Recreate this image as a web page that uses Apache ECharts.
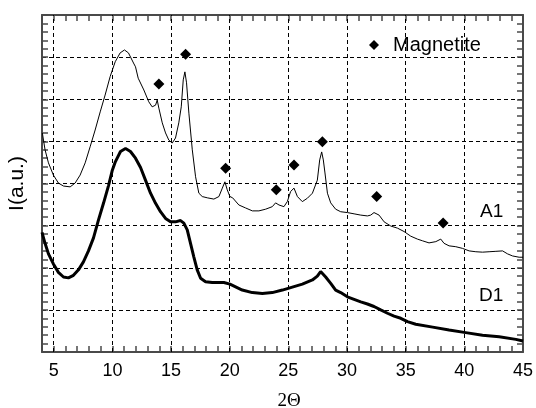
<!DOCTYPE html>
<html>
<head>
<meta charset="utf-8">
<script src="https://cdn.jsdelivr.net/npm/echarts@6/dist/echarts.min.js"></script>
<style>html,body{margin:0;padding:0;background:#fff}#c{width:536px;height:408px}</style>
</head>
<body>
<div id="c"></div>
<script>
var a1X = [4.03,4.26,4.55,4.97,5.40,5.83,6.40,6.82,7.25,7.68,8.10,8.53,8.96,9.38,9.81,10.24,10.66,11.03,11.37,11.80,11.97,12.20,12.68,13.10,13.39,13.68,13.82,13.96,14.25,14.53,14.81,15.10,15.38,15.66,15.87,16.04,16.18,16.32,16.52,16.81,17.09,17.37,17.66,18.09,18.65,19.08,19.37,19.59,19.79,20.02,20.25,20.78,21.35,21.93,22.49,23.06,23.63,23.91,24.20,24.62,24.91,25.19,25.48,25.77,26.19,26.62,27.05,27.47,27.67,27.84,27.98,28.12,28.33,28.61,29.03,29.46,30.03,30.60,31.17,31.74,32.02,32.30,32.45,32.73,33.16,33.73,34.30,34.86,35.43,36.00,36.43,36.99,37.57,37.99,38.27,38.70,39.27,39.84,40.41,40.98,41.55,42.11,42.69,43.26,43.68,44.11,44.67,45.00];
var a1Y = [5.20,4.80,4.49,4.20,4.01,3.94,3.92,4.01,4.20,4.49,4.87,5.27,5.70,6.10,6.54,6.89,7.10,7.17,7.10,6.86,6.77,6.50,6.22,5.94,5.82,5.86,5.98,5.79,5.44,5.20,5.03,4.96,5.08,5.44,5.82,6.46,6.65,6.39,5.67,4.80,4.16,3.77,3.69,3.66,3.63,3.69,3.89,4.04,3.85,3.69,3.66,3.49,3.42,3.35,3.35,3.39,3.45,3.54,3.49,3.45,3.57,3.81,3.89,3.69,3.57,3.65,3.77,4.08,4.56,4.75,4.56,4.25,3.77,3.54,3.39,3.33,3.31,3.28,3.25,3.23,3.25,3.31,3.35,3.25,3.09,2.99,2.94,2.86,2.75,2.68,2.64,2.59,2.62,2.68,2.58,2.52,2.50,2.46,2.40,2.38,2.37,2.38,2.39,2.40,2.33,2.28,2.25,2.25];
var d1X = [4.00,4.26,4.55,4.97,5.40,5.83,6.25,6.68,7.11,7.53,7.96,8.39,8.81,9.24,9.67,9.98,10.26,10.69,11.12,11.54,11.97,12.40,12.82,13.25,13.68,14.10,14.53,14.96,15.38,15.81,16.09,16.38,16.66,16.94,17.23,17.52,17.94,18.51,19.08,19.50,20.02,21.07,21.93,22.78,23.63,24.49,25.34,26.19,27.05,27.47,27.75,28.18,28.61,29.03,29.46,30.03,30.60,31.17,31.74,32.30,32.87,33.45,34.01,34.58,35.15,35.86,37.30,38.70,40.12,41.55,42.97,44.39,45.00];
var d1Y = [2.84,2.58,2.33,2.09,1.89,1.78,1.76,1.82,1.95,2.14,2.40,2.71,3.13,3.53,3.95,4.30,4.52,4.76,4.83,4.76,4.60,4.38,4.08,3.77,3.53,3.33,3.17,3.09,3.09,3.12,3.06,2.90,2.58,2.26,1.95,1.75,1.67,1.65,1.65,1.65,1.61,1.47,1.41,1.39,1.41,1.47,1.54,1.61,1.71,1.80,1.91,1.78,1.63,1.47,1.41,1.31,1.25,1.19,1.14,1.08,1.00,0.92,0.85,0.80,0.72,0.66,0.59,0.52,0.46,0.40,0.36,0.30,0.26];
var magX = [13.96,16.24,19.65,23.97,25.48,27.90,32.53,38.19];
var magY = [6.36,7.07,4.36,3.85,4.44,4.99,3.69,3.06];
var xGridLines = [5,10,15,20,25,30,35,40];
var xLabels = [5,10,15,20,25,30,35,40,45];

function pairs(xs, ys){ return xs.map(function(x,i){ return [x, ys[i]]; }); }

var frame = '#4a4a4a';
var fontSans = '"Liberation Sans", Arial, sans-serif';
var xBase = {
  type: 'value', min: 4, max: 45, interval: 1,
  axisLine: {show: true, onZero: false, lineStyle: {color: frame, width: 2}},
  axisTick: {show: true, inside: true, length: 6, lineStyle: {color: frame, width: 1.5}},
  splitLine: {show: false}
};
var yBase = {
  type: 'value', min: 0, max: 8, interval: 1,
  axisLine: {show: true, onZero: false, lineStyle: {color: frame, width: 2}},
  axisTick: {show: true, inside: true, length: 6, lineStyle: {color: frame, width: 1.5}},
  minorTick: {show: true, splitNumber: 5, length: 6, lineStyle: {color: frame, width: 1.5}},
  axisLabel: {show: false}
};

var chart = echarts.init(document.getElementById('c'), null, {renderer: 'canvas'});
chart.setOption({
  animation: false,
  backgroundColor: '#fff',
  grid: {left: 42, top: 15, right: 13, bottom: 56, containLabel: false, outerBoundsMode: 'none'},
  legend: {
    data: [{name: 'Magnetite', icon: 'diamond'}],
    left: 369, top: 35, padding: 0,
    itemWidth: 10, itemHeight: 10,
    itemStyle: {color: '#000', opacity: 1},
    textStyle: {fontSize: 20, color: '#000', fontFamily: fontSans, padding: [0,0,0,9]}
  },
  xAxis: [
    Object.assign({}, xBase, {
      position: 'bottom',
      axisLabel: {show: true, fontSize: 18, color: '#000', fontFamily: fontSans, margin: 10,
        formatter: function(v){ return xLabels.indexOf(v) >= 0 ? String(v) : ''; }},
      name: '2Θ', nameLocation: 'middle', nameGap: 40,
      nameTextStyle: {fontSize: 19, color: '#000', fontFamily: '"Liberation Serif", "Times New Roman", serif', padding: [0,0,0,13]}
    }),
    Object.assign({}, xBase, {position: 'top', axisLabel: {show: false}})
  ],
  yAxis: [
    Object.assign({}, yBase, {
      position: 'left',
      splitLine: {show: true, lineStyle: {color: '#000', width: 1, type: [4,3]}},
      name: 'I(a.u.)', nameLocation: 'middle', nameGap: 14,
      nameTextStyle: {fontSize: 21, color: '#000', fontFamily: fontSans}
    }),
    Object.assign({}, yBase, {position: 'right', splitLine: {show: false}})
  ],
  graphic: [
    {type: 'text', left: 480, top: 202, style: {text: 'A1', fontSize: 19, fill: '#000', fontFamily: fontSans}},
    {type: 'text', left: 479, top: 286, style: {text: 'D1', fontSize: 19, fill: '#000', fontFamily: fontSans}}
  ],
  series: [
    {
      name: 'grid', type: 'line', data: [], silent: true,
      markLine: {
        silent: true, symbol: 'none', label: {show: false},
        lineStyle: {color: '#000', width: 1, type: [4,3]},
        data: xGridLines.map(function(v){ return {xAxis: v}; })
      }
    },
    {
      name: 'A1', type: 'line', data: pairs(a1X, a1Y), showSymbol: false,
      lineStyle: {color: '#000', width: 1}, z: 3
    },
    {
      name: 'D1', type: 'line', data: pairs(d1X, d1Y), showSymbol: false,
      lineStyle: {color: '#000', width: 3}, z: 3
    },
    {
      name: 'Magnetite', type: 'scatter', data: pairs(magX, magY),
      symbol: 'diamond', symbolSize: 11, itemStyle: {color: '#000', opacity: 1}, z: 4
    }
  ]
});
</script>
</body>
</html>
